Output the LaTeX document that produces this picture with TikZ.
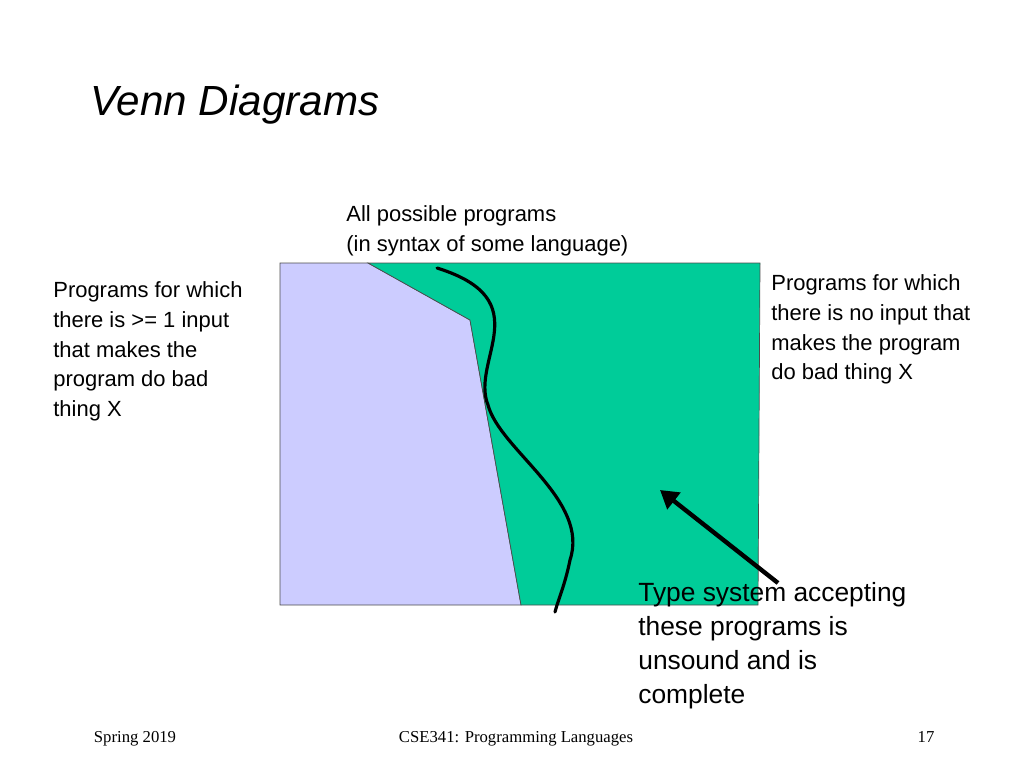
\documentclass[tikz,border=0pt]{standalone}
\usepackage{fontspec}
\setmainfont{Liberation Sans}
\newfontfamily\footfont{Liberation Serif}
\usetikzlibrary{arrows.meta}
\tikzset{>=Triangle}
\definecolor{okcol}{RGB}{0,204,153}
\definecolor{badcol}{RGB}{204,204,255}
\tikzset{lbl/.style={anchor=north west,align=left,font=\fontsize{12.5}{17}\selectfont,inner sep=0pt},
         foot/.style={anchor=base,font=\footfont\fontsize{9.5}{11}\selectfont,inner sep=0pt}}
\begin{document}
\begin{tikzpicture}[x=0.02cm,y=0.02cm]
    \useasboundingbox (0,0) rectangle (1024,-768);
    % title
    \node[anchor=base west,inner sep=0pt,font=\itshape\fontsize{24}{28}\selectfont] (title) at (90,-115) {Venn Diagrams};
    % the two sets
    \coordinate (tl) at (280,-263);
    \coordinate (tm) at (368,-263);
    \coordinate (tr) at (760,-263);
    \coordinate (br) at (758,-605);
    \coordinate (bm) at (521,-605);
    \coordinate (bl) at (280,-605);
    \coordinate (kink) at (470,-320);
    \filldraw[fill=badcol,draw=black!70] (tl) -- (tm) -- (kink) -- (bm) -- (bl) -- cycle;
    \filldraw[fill=okcol,draw=black!70] (tm) -- (tr) -- (br) -- (bm) -- (kink) -- cycle;
    % type system boundary
    \draw[line width=1.8pt,line cap=round] (437,-268) .. controls (540,-300) and (470,-360) .. (488,-405)
        .. controls (500,-450) and (590,-500) .. (570,-560) .. controls (565,-585) and (558,-600) .. (555,-612);
    % labels
    \node[lbl] (all) at (346,-205) {All possible programs\\(in syntax of some language)};
    \node[lbl] (bad) at (53,-281) {Programs for which\\there is >= 1 input\\that makes the\\program do bad\\thing X};
    \node[lbl] (good) at (771,-274) {Programs for which\\there is no input that\\makes the program\\do bad thing X};
    \node[lbl,font=\fontsize{15}{19.3}\selectfont] (type) at (638,-582) {Type system accepting\\these programs is\\unsound and is\\complete};
    \coordinate (tip) at (660,-490);
    \coordinate (tail) at (778,-583);
    \draw[->,line width=2.5pt] (tail) -- (tip);
    % footer
    \node[foot] (f1) at (135,-742) {Spring 2019};
    \node[foot] (f2) at (516,-742) {CSE341: Programming Languages};
    \node[foot] (f3) at (926,-742) {17};
\end{tikzpicture}
\end{document}
